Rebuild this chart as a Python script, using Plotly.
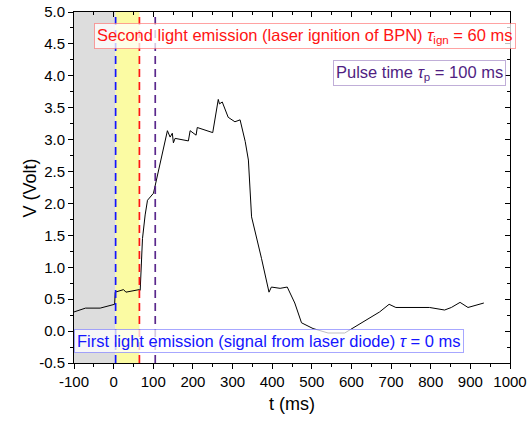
import plotly.graph_objects as go

# Signal trace (t in ms, V in Volt)
t_ms = [-100, -71, -34, 2.5, 4, 25, 31, 64.5, 67, 72.8, 79.5, 85.4, 100.5, 113, 125.6, 135.7,
        142.5, 148, 150.8, 155, 188.6, 193, 208, 211, 250, 264, 267, 274, 289, 306, 319,
        332, 340, 348, 373, 392, 398, 420, 438, 457, 474, 503, 541, 583, 671, 695, 712,
        797, 835, 852, 874, 894, 934]
volt = [0.30, 0.36, 0.36, 0.42, 0.61, 0.65, 0.61, 0.65, 0.64, 1.45, 1.82, 2.05, 2.16, 2.52, 2.87, 3.14,
        3.04, 3.10, 2.95, 3.02, 2.98, 3.14, 3.07, 3.19, 3.11, 3.63, 3.56, 3.59, 3.35, 3.28, 3.31,
        2.97, 2.68, 1.79, 1.14, 0.61, 0.69, 0.67, 0.69, 0.44, 0.13, 0.04, -0.03, -0.03, 0.30, 0.42, 0.37,
        0.37, 0.33, 0.37, 0.45, 0.37, 0.44]

# Event markers (ms)
t_first = 5      # first light emission
t_ign = 65       # laser ignition
t_pulse = 105    # end of pulse

x_range = [-100, 1000]
y_range = [-0.5, 5.0]
x_ticks = [-100, 0, 100, 200, 300, 400, 500, 600, 700, 800, 900, 1000]
x_ticklabels = ["-100", "0", "100", "200", "300", "400", "500", "600", "700", "800", "900", "1000"]
y_ticks = [-0.5, 0.0, 0.5, 1.0, 1.5, 2.0, 2.5, 3.0, 3.5, 4.0, 4.5, 5.0]
y_ticklabels = ["-0.5", "0.0", "0.5", "1.0", "1.5", "2.0", "2.5", "3.0", "3.5", "4.0", "4.5", "5.0"]

FONT = "Liberation Sans, Arial, sans-serif"

fig = go.Figure()
fig.add_trace(go.Scatter(x=t_ms, y=volt, mode="lines",
                         line=dict(color="black", width=1), showlegend=False,
                         hoverinfo="skip"))
# invisible trace for the mirrored axes
fig.add_trace(go.Scatter(x=[x_range[0]], y=[y_range[0]], xaxis="x2", yaxis="y2",
                         mode="markers", marker=dict(opacity=0), showlegend=False,
                         hoverinfo="skip"))

# shaded bands
fig.add_shape(type="rect", xref="x", yref="paper", x0=x_range[0], x1=t_first, y0=0, y1=1,
              fillcolor="rgb(221,221,221)", line_width=0, layer="below")
fig.add_shape(type="rect", xref="x", yref="paper", x0=t_first, x1=t_ign, y0=0, y1=1,
              fillcolor="rgb(251,251,163)", line_width=0, layer="below")

# dashed event lines
for xv, col in [(t_first, "rgb(20,20,255)"), (t_ign, "rgb(255,20,20)"), (t_pulse, "rgb(90,40,140)")]:
    fig.add_shape(type="line", xref="x", yref="paper", x0=xv, x1=xv, y0=0, y1=1,
                  line=dict(color=col, width=1.7, dash="8px,5px"))

def box(text, x, y, color, border):
    fig.add_annotation(text=text, xref="paper", yref="paper", x=x, y=y,
                       xanchor="center", yanchor="middle", showarrow=False,
                       font=dict(family=FONT, size=16.5, color=color),
                       bgcolor="rgba(255,255,255,0.75)", bordercolor=border,
                       borderwidth=1, borderpad=2)

box("Second light emission (laser ignition of BPN) <i>τ</i><sub>ign</sub> = 60 ms",
    0.529, 0.932, "rgb(255,20,20)", "rgba(255,100,100,0.6)")
box("Pulse time <i>τ</i><sub>p</sub> = 100 ms",
    0.793, 0.827, "rgb(80,30,130)", "rgba(150,120,190,0.6)")
box("First light emission (signal from laser diode) <i>τ</i> = 0 ms",
    0.448, 0.062, "rgb(20,20,255)", "rgba(130,130,255,0.7)")

# y-axis title
fig.add_annotation(text="V (Volt)", xref="paper", yref="paper", x=-0.101, y=0.5,
                   xanchor="center", yanchor="middle", textangle=-90, showarrow=False,
                   font=dict(family=FONT, size=18, color="black"))

axis_common = dict(showgrid=False, zeroline=False, showline=True, linecolor="black",
                   linewidth=1, tickcolor="black", ticklen=5, tickwidth=1, automargin=False,
                   ticklabeloverflow="allow",
                   tickfont=dict(family=FONT, size=15, color="black"))

fig.update_layout(
    width=532, height=423,
    margin=dict(l=74, r=22, t=12, b=60),
    paper_bgcolor="white", plot_bgcolor="white",
    font=dict(family=FONT, color="black"),
    xaxis=dict(range=x_range, tickvals=x_ticks, ticktext=x_ticklabels, ticks="outside",
               minor=dict(ticks="outside", dtick=50, ticklen=3, tickcolor="black"),
               title=dict(text="t (ms)", font=dict(family=FONT, size=18), standoff=8),
               **axis_common),
    yaxis=dict(range=y_range, tickvals=y_ticks, ticktext=y_ticklabels, ticks="outside",
               minor=dict(ticks="outside", dtick=0.25, ticklen=3, tickcolor="black"),
               **axis_common),
    xaxis2=dict(range=x_range, dtick=100, overlaying="x", side="top", ticks="inside",
                showticklabels=False, anchor="y2",
                minor=dict(ticks="inside", dtick=50, ticklen=3, tickcolor="black"),
                **axis_common),
    yaxis2=dict(range=y_range, dtick=0.5, overlaying="y", side="right", ticks="inside",
                showticklabels=False, anchor="x2",
                minor=dict(ticks="inside", dtick=0.25, ticklen=3, tickcolor="black"),
                **axis_common),
    showlegend=False,
)

fig.write_html("out.html", config={"displayModeBar": False},
               post_script="document.body.style.margin='0';document.body.style.padding='0';")
